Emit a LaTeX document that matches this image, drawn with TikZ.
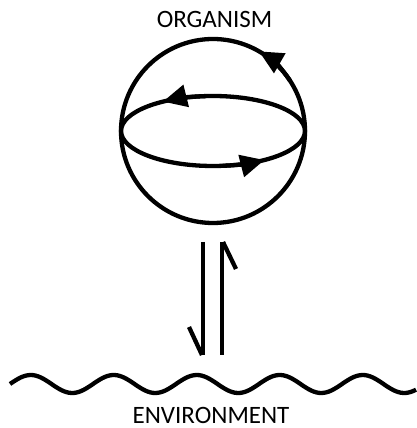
\documentclass[tikz,border=0pt]{standalone}
\usepackage{fontspec}
\setmainfont{Carlito}
\usetikzlibrary{arrows.meta,calc}

\begin{document}
\begin{tikzpicture}[x=1pt,y=1pt,line width=4.3pt,
 caption/.style={font=\fontsize{25}{30}\selectfont,anchor=base,inner sep=0pt},
 orbit/.style={-{Triangle[length=24pt,width=22pt]}},
 harpoon/.style={line cap=butt}]
\path[use as bounding box] (0,0) rectangle (416,428);
\node[caption] (organism) at (214.5,400.7) {ORGANISM};
\node[circle,draw,minimum size=184pt,inner sep=0pt] (sphere) at (213,297) {};
\draw (sphere.center) ellipse[x radius=92,y radius=35];
% Direction marks on the equator and on the meridian.
\draw[orbit] ($(sphere.center)+(95:92 and 35)$) arc[start angle=95,end angle=123,x radius=92,y radius=35];
\draw[orbit] ($(sphere.center)+(-84:92 and 35)$) arc[start angle=-84,end angle=-56,x radius=92,y radius=35];
\draw[orbit] ($(sphere.center)+(33:92)$) arc[start angle=33,end angle=60,radius=92];

% Exchange with the surroundings, one harpoon each way.
\coordinate (downtail) at (203,186);
\coordinate (downtip) at (203,73);
\coordinate (uptail) at (222,73);
\coordinate (uptip) at (222,186);
\draw[harpoon] (downtail)--(downtip);
\draw[harpoon] ($(downtip)+(-1,0)$)--++(-13,28);
\draw[harpoon] (uptail)--(uptip);
\draw[harpoon] ($(uptip)+(1,0)$)--++(13,-27);

\draw plot[domain=10:416,samples=160,smooth] (\x,{44+9*sin(4.3373*(\x-10))});
\node[caption] (environment) at (211,5) {ENVIRONMENT};
\end{tikzpicture}
\end{document}
